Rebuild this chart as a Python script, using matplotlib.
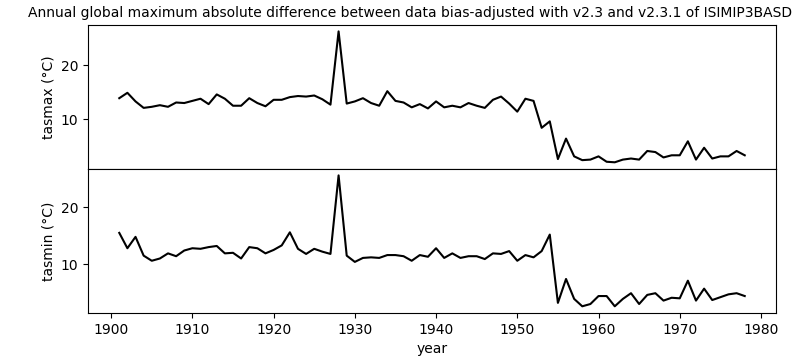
import numpy as np
import matplotlib
matplotlib.use('Agg')
import matplotlib.pyplot as plt

years = np.arange(1901, 1979)

# annual max abs difference
tasmax = [13.9, 14.9, 13.3, 12.1, 12.3, 12.6, 12.3, 13.1, 13.0, 13.4,
          13.8, 12.8, 14.6, 13.8, 12.5, 12.5, 13.9, 13.0, 12.4, 13.6,
          13.6, 14.1, 14.3, 14.2, 14.4, 13.7, 12.7, 26.3, 12.9, 13.3,
          13.9, 13.0, 12.5, 15.2, 13.4, 13.1, 12.2, 12.8, 12.0, 13.3,
          12.2, 12.5, 12.2, 13.0, 12.5, 12.1, 13.6, 14.2, 12.9, 11.4,
          13.8, 13.4, 8.4, 9.6, 2.6, 6.4, 3.1, 2.4, 2.5, 3.1,
          2.1, 2.0, 2.5, 2.7, 2.5, 4.1, 3.9, 2.9, 3.3, 3.3,
          5.9, 2.5, 4.7, 2.7, 3.1, 3.1, 4.1, 3.3]

tasmin = [15.5, 12.8, 14.8, 11.5, 10.6, 11.0, 11.9, 11.4, 12.4, 12.8,
          12.7, 13.0, 13.2, 11.9, 12.0, 11.0, 13.0, 12.8, 11.9, 12.5,
          13.3, 15.6, 12.7, 11.8, 12.7, 12.2, 11.8, 25.6, 11.5, 10.4,
          11.1, 11.2, 11.1, 11.6, 11.6, 11.4, 10.6, 11.6, 11.3, 12.8,
          11.1, 11.9, 11.1, 11.4, 11.4, 10.9, 11.9, 11.8, 12.3, 10.6,
          11.6, 11.2, 12.3, 15.2, 3.2, 7.4, 3.9, 2.6, 3.0, 4.4,
          4.4, 2.6, 3.9, 4.9, 3.0, 4.6, 4.9, 3.6, 4.1, 4.0,
          7.1, 3.6, 5.7, 3.7, 4.2, 4.7, 4.9, 4.4]

fig, axs = plt.subplots(2, 1, figsize=(8, 3.6), dpi=100, sharex=True)
fig.subplots_adjust(left=0.11, right=0.97, top=0.931, bottom=0.131, hspace=0)

axs[0].plot(years, tasmax, color='k')
axs[0].set_ylabel('tasmax (°C)')
fig.text(0.5125, 0.965,
         'Annual global maximum absolute difference between data bias-adjusted with v2.3 and v2.3.1 of ISIMIP3BASD',
         fontsize=10, ha='center', va='center')

axs[1].plot(years, tasmin, color='k')
axs[1].set_ylabel('tasmin (°C)')
axs[1].set_xlabel('year')

plt.savefig('out.png')
